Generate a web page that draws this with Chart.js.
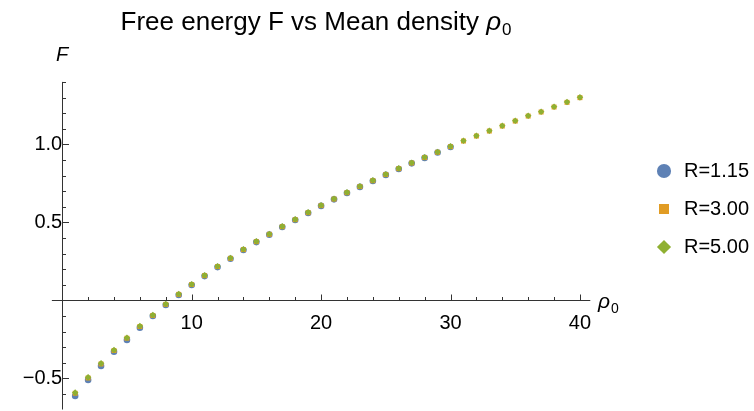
<!DOCTYPE html>
<html>
<head>
<meta charset="utf-8">
<script src="https://cdn.jsdelivr.net/npm/chart.js@4.4.1/dist/chart.umd.min.js"></script>
<style>
html,body{margin:0;padding:0;background:#ffffff;}
#wrap{width:754px;height:411px;position:relative;}
</style>
</head>
<body>
<div id="wrap"><canvas id="c" width="754" height="411"></canvas></div>
<script>
// ---------- data ----------
const rho = [1,2,3,4,5,6,7,8,9,10,11,12,13,14,15,16,17,18,19,20,
             21,22,23,24,25,26,27,28,29,30,31,32,33,34,35,36,37,38,39,40];
const seriesNames = ['R=1.15', 'R=3.00', 'R=5.00'];
const F_R115 = [-0.613,-0.511,-0.421,-0.330,-0.254,-0.176,-0.101,-0.030,0.034,0.098,
                0.155,0.213,0.266,0.322,0.373,0.421,0.470,0.515,0.560,0.605,
                0.647,0.688,0.727,0.765,0.804,0.842,0.878,0.913,0.947,0.983];
const F_R300 = [-0.596,-0.498,-0.408,-0.322,-0.243,-0.168,-0.097,-0.026,0.038,0.101,
                0.158,0.216,0.269,0.325,0.376,0.423,0.472,0.517,0.562,0.607,
                0.649,0.690,0.729,0.767,0.806,0.844,0.880,0.915,0.949,0.985,
                1.021,1.053,1.085,1.117,1.149,1.181,1.207,1.239,1.269,1.299];
const F_R500 = [-0.592,-0.494,-0.404,-0.319,-0.240,-0.165,-0.094,-0.024,0.040,0.103,
                0.160,0.218,0.271,0.327,0.378,0.425,0.474,0.519,0.564,0.609,
                0.651,0.692,0.731,0.769,0.808,0.846,0.882,0.917,0.951,0.987,
                1.023,1.055,1.087,1.119,1.151,1.183,1.209,1.241,1.271,1.301];
const xTickLabels = [10, 20, 30, 40];
const yTickLabels = [-0.5, 0.5, 1.0];
const xMinorTicks = [2,4,6,8,10,12,14,16,18,20,22,24,26,28,30,32,34,36,38,40];
const yMinorTicks = [-0.6,-0.5,-0.4,-0.3,-0.2,-0.1,0.1,0.2,0.3,0.4,0.5,0.6,0.7,0.8,0.9,1.0,1.1,1.2,1.3,1.4];

const FAMILY = '"Liberation Sans", Arial, Helvetica, sans-serif';
Chart.defaults.font.family = FAMILY;
Chart.defaults.color = '#000';

const colors = ['#5e81b5', '#e19c24', '#8fb032'];
const styles = ['circle', 'rect', 'rectRot'];
const radii = [3.3, 3.5, 3.3];
const seriesData = [F_R115, F_R300, F_R500];

const datasets = seriesNames.map((name, k) => ({
  label: name,
  data: seriesData[k].map((v, i) => ({x: rho[i], y: v})),
  backgroundColor: colors[k],
  borderColor: colors[k],
  borderWidth: 0,
  pointStyle: styles[k],
  pointRadius: radii[k],
  pointHoverRadius: radii[k],
  showLine: false,
  clip: false,
  order: 3 - k
}));

// axis lines, tick marks and axis labels drawn with the scales' pixel mapping
const axesPlugin = {
  id: 'mmaAxes',
  beforeDatasetsDraw(chart) {
    const {ctx, scales: {x, y}} = chart;
    const x0 = Math.round(x.getPixelForValue(0)) + 0.5;
    const y0 = Math.round(y.getPixelForValue(0)) + 0.5;
    ctx.save();
    ctx.strokeStyle = '#333';
    ctx.lineWidth = 1;
    ctx.beginPath();
    ctx.moveTo(x.getPixelForValue(-0.8), y0);
    ctx.lineTo(x.getPixelForValue(40.8), y0);
    ctx.moveTo(x0, y.getPixelForValue(1.40));
    ctx.lineTo(x0, y.getPixelForValue(-0.70));
    xMinorTicks.forEach(v => {
      const px = Math.round(x.getPixelForValue(v)) + 0.5;
      const len = xTickLabels.includes(v) ? 6 : 3.5;
      ctx.moveTo(px, y0);
      ctx.lineTo(px, y0 - len);
    });
    yMinorTicks.forEach(v => {
      const py = Math.round(y.getPixelForValue(v)) + 0.5;
      const len = yTickLabels.some(t => Math.abs(t - v) < 1e-9) ? 6.5 : 3.5;
      ctx.moveTo(x0, py);
      ctx.lineTo(x0 + len, py);
    });
    ctx.stroke();
    ctx.restore();
  },
  afterDraw(chart) {
    const {ctx} = chart;
    ctx.save();
    ctx.fillStyle = '#000';
    ctx.textAlign = 'left';
    ctx.textBaseline = 'alphabetic';
    // title
    const main = 'Free energy F vs Mean density ';
    ctx.font = '26px ' + FAMILY;
    const w1 = ctx.measureText(main).width;
    ctx.font = 'italic 26px ' + FAMILY;
    const w2 = ctx.measureText('ρ').width;
    ctx.font = '17px ' + FAMILY;
    const w3 = ctx.measureText('0').width;
    const total = w1 + w2 + w3 + 1;
    let tx = 316 - total / 2;
    ctx.font = '26px ' + FAMILY;
    ctx.fillText(main, tx, 30);
    ctx.font = 'italic 26px ' + FAMILY;
    ctx.fillText('ρ', tx + w1, 30);
    ctx.font = '17px ' + FAMILY;
    ctx.fillText('0', tx + w1 + w2 + 1, 35);
    // y axis label
    ctx.font = 'italic 20px ' + FAMILY;
    ctx.fillText('F', 56, 61);
    // x axis label
    ctx.font = 'italic 21px ' + FAMILY;
    ctx.fillText('ρ', 598, 308);
    const wr = ctx.measureText('ρ').width;
    ctx.font = '14px ' + FAMILY;
    ctx.fillText('0', 598 + wr + 1, 313);
    ctx.restore();
  }
};

new Chart(document.getElementById('c'), {
  type: 'scatter',
  data: {datasets},
  options: {
    responsive: false,
    animation: false,
    devicePixelRatio: 1,
    layout: {padding: {left: 52, top: 82, right: 0, bottom: 10}},
    scales: {
      x: {
        type: 'linear',
        position: {y: 0},
        min: -0.79,
        max: 44.33,
        grid: {display: false, drawTicks: false},
        border: {display: false},
        afterBuildTicks: s => { s.ticks = xTickLabels.map(v => ({value: v})); },
        ticks: {
          font: {size: 20},
          color: '#000',
          padding: 11,
          maxRotation: 0,
          callback: v => String(v)
        }
      },
      y: {
        type: 'linear',
        position: {x: 0},
        min: -0.6455,
        max: 1.3994,
        grid: {display: false, drawTicks: false},
        border: {display: false},
        afterBuildTicks: s => { s.ticks = yTickLabels.map(v => ({value: v})); },
        ticks: {
          font: {size: 20, lineHeight: 0.2},
          color: '#000',
          padding: 7,
          callback: v => (v < 0 ? '\u2212' : '') + Math.abs(v).toFixed(1)
        }
      }
    },
    plugins: {
      title: {display: false},
      tooltip: {enabled: false},
      legend: {
        display: true,
        position: 'right',
        align: 'start',
        maxWidth: 118,
        title: {display: true, text: ' ', font: {size: 10}, padding: {top: 0, bottom: 49}},
        labels: {
          usePointStyle: true,
          boxHeight: 10,
          padding: 18,
          color: '#000',
          font: {size: 20},
          sort: (a, b) => a.datasetIndex - b.datasetIndex
        }
      }
    }
  },
  plugins: [axesPlugin]
});
</script>
</body>
</html>
